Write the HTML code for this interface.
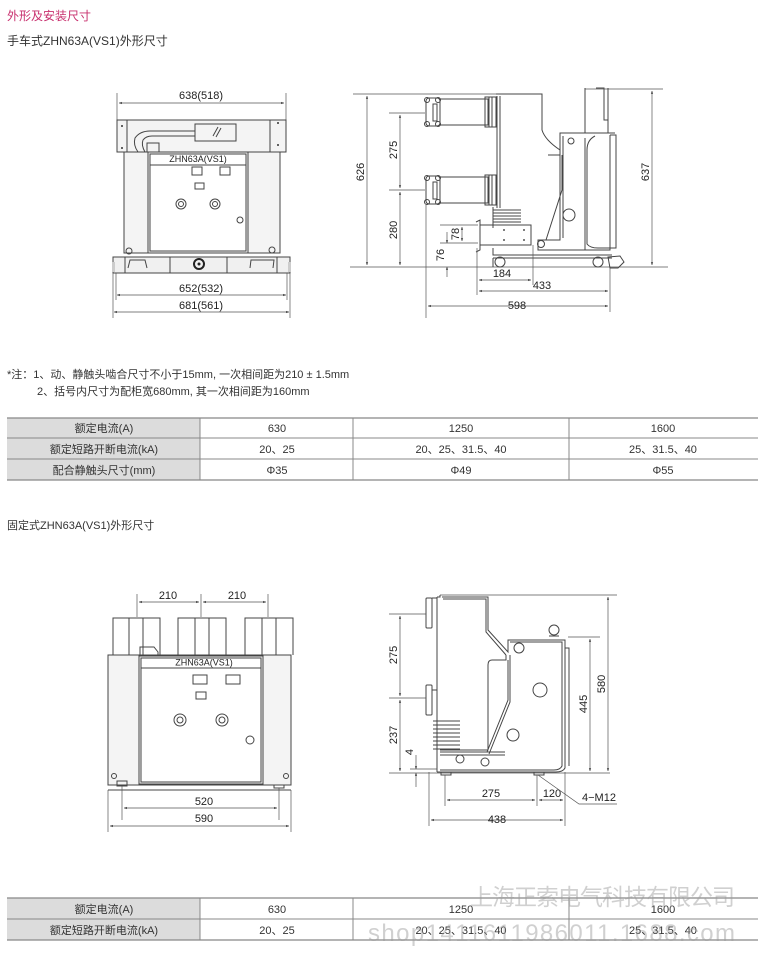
<!DOCTYPE html>
<html><head><meta charset="utf-8"><style>
body{margin:0;background:#fff;}
svg{display:block;font-family:"Liberation Sans","Noto Sans CJK SC",sans-serif;}
.l{stroke:#444;stroke-width:1;fill:none}
.t{stroke:#555;stroke-width:0.7;fill:none}
.d{font-size:11px;fill:#222}
.c{font-size:11px;fill:#333}
.wm{fill:#999;opacity:0.45}
</style></head><body>
<svg width="758" height="962" viewBox="0 0 758 962">
<defs>
<marker id="a" viewBox="0 0 10 10" refX="10" refY="5" markerWidth="6" markerHeight="4" orient="auto-start-reverse"><path d="M0,1L10,5L0,9z" fill="#333"/></marker>
</defs>
<text x="7" y="20" font-size="12" fill="#c8306e">外形及安装尺寸</text>
<text x="7" y="45" font-size="12" fill="#333">手车式ZHN63A(VS1)外形尺寸</text>

<!-- TOP LEFT front view -->
<g>
<line class="t" x1="117" y1="93" x2="117" y2="120"/><line class="t" x1="286" y1="93" x2="286" y2="120"/>
<line class="t" x1="119" y1="103" x2="284" y2="103" marker-start="url(#a)" marker-end="url(#a)"/>
<text class="d" x="201" y="99" text-anchor="middle">638(518)</text>
<rect x="117" y="120" width="169" height="32" fill="#f4f4f4"/>
<rect class="l" x="117" y="120" width="169" height="32"/>
<rect class="l" x="117" y="120" width="10" height="32"/><rect class="l" x="270" y="120" width="16" height="32"/>
<circle cx="122" cy="126" r="1" fill="#333"/><circle cx="122" cy="148" r="1" fill="#333"/>
<circle cx="278" cy="123" r="1" fill="#333"/><circle cx="278" cy="145" r="1" fill="#333"/>
<path class="l" d="M145,152 L138,152 Q133,145 135,138 Q140,131 150,131 L195,131 M145,152 Q141,145 143,140 Q146,136 152,136 L195,136"/>
<rect class="l" x="195" y="124" width="41" height="17"/>
<path class="l" d="M213,136 L218,127 M216,137 L221,128"/>
<rect class="l" x="147" y="143" width="12" height="10"/>
<rect x="124" y="152" width="156" height="101" fill="#f4f4f4"/>
<rect class="l" x="124" y="152" width="156" height="101"/>
<rect class="l" x="148" y="152" width="100" height="101"/>
<rect x="150" y="154" width="96" height="97" fill="#fff"/>
<rect class="l" x="150" y="154" width="96" height="97"/>
<line class="l" x1="150" y1="165" x2="246" y2="165"/>
<text x="198" y="162" font-size="9" text-anchor="middle" fill="#222">ZHN63A(VS1)</text>
<rect class="l" x="192" y="167" width="10" height="8" stroke-width="1.5"/>
<rect class="l" x="220" y="167" width="10" height="8" stroke-width="1.5"/>
<rect class="l" x="195" y="183" width="9" height="6" stroke-width="1.2"/>
<circle class="l" cx="181" cy="204" r="5"/><circle class="l" cx="181" cy="204" r="2.5"/>
<circle class="l" cx="215" cy="204" r="5"/><circle class="l" cx="215" cy="204" r="2.5"/>
<circle class="l" cx="240" cy="220" r="3"/>
<circle class="l" cx="129" cy="251" r="3"/><circle class="l" cx="272" cy="250" r="3"/>
<rect x="113" y="257" width="177" height="16" fill="#f0f0f0"/>
<rect class="l" x="113" y="257" width="177" height="16"/>
<rect x="112" y="262" width="3" height="10" fill="#ccc"/><rect x="288" y="262" width="3" height="10" fill="#ccc"/>
<rect class="l" x="125" y="257" width="45" height="16"/><rect class="l" x="227" y="257" width="50" height="16"/>
<path class="l" d="M128,268 L130,260 L145,260 L147,268 M250,268 L251,260 L274,260 L273,268"/>
<circle cx="199" cy="264" r="5" fill="none" stroke="#222" stroke-width="2"/><circle cx="199" cy="264" r="1.5" fill="#222"/>
<line class="t" x1="113" y1="273" x2="113" y2="318"/><line class="t" x1="290" y1="273" x2="290" y2="318"/>
<line class="t" x1="116" y1="273" x2="116" y2="300"/><line class="t" x1="287" y1="273" x2="287" y2="300"/>
<line class="t" x1="117" y1="295" x2="286" y2="295" marker-start="url(#a)" marker-end="url(#a)"/>
<text class="d" x="201" y="292" text-anchor="middle">652(532)</text>
<line class="t" x1="114" y1="312" x2="289" y2="312" marker-start="url(#a)" marker-end="url(#a)"/>
<text class="d" x="201" y="309" text-anchor="middle">681(561)</text>
</g>

<!-- TOP RIGHT side view -->
<g>
<line class="t" x1="353" y1="94" x2="500" y2="94"/>
<line class="t" x1="350" y1="267" x2="668" y2="267"/>
<line class="t" x1="367" y1="96" x2="367" y2="265" marker-start="url(#a)" marker-end="url(#a)"/>
<text class="d" transform="translate(364,172) rotate(-90)" text-anchor="middle">626</text>
<line class="t" x1="389" y1="113" x2="425" y2="113"/><line class="t" x1="389" y1="190" x2="425" y2="190"/>
<line class="t" x1="400" y1="115" x2="400" y2="188" marker-start="url(#a)" marker-end="url(#a)"/>
<text class="d" transform="translate(397,150) rotate(-90)" text-anchor="middle">275</text>
<line class="t" x1="400" y1="192" x2="400" y2="265" marker-start="url(#a)" marker-end="url(#a)"/>
<text class="d" transform="translate(397,230) rotate(-90)" text-anchor="middle">280</text>
<g>
<rect class="l" x="426" y="98" width="14" height="28" rx="3"/><rect class="l" x="433" y="104" width="4" height="17"/>
<circle class="l" cx="427" cy="100" r="2.5"/><circle class="l" cx="438" cy="100" r="2.5"/><circle class="l" cx="427" cy="124" r="2.5"/><circle class="l" cx="438" cy="124" r="2.5"/>
<rect class="l" x="440" y="99" width="48" height="26"/>
<rect class="l" x="485" y="97" width="11" height="30"/><line class="l" x1="489" y1="97" x2="489" y2="127"/><line class="l" x1="492" y1="97" x2="492" y2="127"/>
</g>
<g transform="translate(0,78)">
<rect class="l" x="426" y="98" width="14" height="28" rx="3"/><rect class="l" x="433" y="104" width="4" height="17"/>
<circle class="l" cx="427" cy="100" r="2.5"/><circle class="l" cx="438" cy="100" r="2.5"/><circle class="l" cx="427" cy="124" r="2.5"/><circle class="l" cx="438" cy="124" r="2.5"/>
<rect class="l" x="440" y="99" width="48" height="26"/>
<rect class="l" x="485" y="97" width="11" height="30"/><line class="l" x1="489" y1="97" x2="489" y2="127"/><line class="l" x1="492" y1="97" x2="492" y2="127"/>
</g>
<line class="t" x1="426" y1="205" x2="426" y2="318"/>
<path class="l" d="M496,94 L542,94 L542,130 Q545,140 560,150 L560,133 L615,133 M497,96 L497,208 M500,96 L500,208"/>
<path class="l" d="M560,133 L560,240 L538,240 L538,250 L610,250 L610,135 M563,136 L563,238 M548,155 L560,155"/>
<path class="l" d="M546,240 L562,190 L562,155"/>
<path class="l" d="M585,88 L585,133 M608,88 L608,133 M596,88 L604,88 L604,120 L608,120 M585,138 L585,250 M595,136 Q587,140 587,150 L587,244 Q590,248 598,248 L610,248"/>
<path class="l" d="M610,135 L616,135 L616,248 L610,248"/>
<circle class="l" cx="571" cy="141" r="3"/><circle class="l" cx="569" cy="215" r="6"/><circle class="l" cx="541" cy="244" r="3.5"/>
<path class="l" d="M493,210 L521,210 M493,213 L521,213 M493,216 L521,216 M493,219 L521,219 M493,222 L521,222 M493,225 L521,225 M493,207 L493,228"/>
<path class="l" d="M476,222 L480,220 L480,225 L531,225 L531,245 L480,245 L480,250 L476,252 M480,225 L480,245"/>
<circle cx="504" cy="230" r="1" fill="#555"/><circle cx="524" cy="230" r="1" fill="#555"/><circle cx="504" cy="240" r="1" fill="#555"/><circle cx="524" cy="240" r="1" fill="#555"/>
<path class="l" d="M493,248 L493,255 L612,255 M493,258 L612,258 M493,258 L493,267"/>
<circle class="l" cx="500" cy="262" r="5"/><circle class="l" cx="598" cy="262" r="5"/>
<path class="l" d="M608,257 L620,256 L624,262 L618,268 L610,268 Z"/>
<line class="t" x1="440" y1="225" x2="478" y2="225"/><line class="t" x1="440" y1="243" x2="478" y2="243"/>
<line class="t" x1="462" y1="227" x2="462" y2="241" marker-start="url(#a)" marker-end="url(#a)"/>
<text class="d" transform="translate(459,234) rotate(-90)" text-anchor="middle">78</text>
<line class="t" x1="447" y1="232" x2="447" y2="243" marker-end="url(#a)"/>
<line class="t" x1="447" y1="277" x2="447" y2="267" marker-end="url(#a)"/>
<text class="d" transform="translate(444,255) rotate(-90)" text-anchor="middle">76</text>
<line class="t" x1="477" y1="248" x2="477" y2="295"/><line class="t" x1="533" y1="245" x2="533" y2="285"/>
<line class="t" x1="610" y1="268" x2="610" y2="312"/>
<line class="t" x1="479" y1="280" x2="531" y2="280" marker-start="url(#a)" marker-end="url(#a)"/>
<text class="d" x="502" y="277" text-anchor="middle">184</text>
<line class="t" x1="479" y1="291" x2="608" y2="291" marker-start="url(#a)" marker-end="url(#a)"/>
<text class="d" x="542" y="289" text-anchor="middle">433</text>
<line class="t" x1="428" y1="306" x2="608" y2="306" marker-start="url(#a)" marker-end="url(#a)"/>
<text class="d" x="517" y="309" text-anchor="middle">598</text>
<line class="t" x1="585" y1="89" x2="663" y2="89"/>
<line class="t" x1="652" y1="91" x2="652" y2="265" marker-start="url(#a)" marker-end="url(#a)"/>
<text class="d" transform="translate(649,172) rotate(-90)" text-anchor="middle">637</text>
</g>

<text x="7" y="378" font-size="11" fill="#333">*注：1、动、静触头啮合尺寸不小于15mm, 一次相间距为210 ± 1.5mm</text>
<text x="37" y="395" font-size="11" fill="#333">2、括号内尺寸为配柜宽680mm, 其一次相间距为160mm</text>

<g>
<rect x="7" y="418" width="193" height="62" fill="#dcdcdc"/>
<line x1="7" y1="418" x2="758" y2="418" stroke="#888" stroke-width="1.3"/>
<line x1="7" y1="438" x2="758" y2="438" stroke="#888"/>
<line x1="7" y1="459" x2="758" y2="459" stroke="#888"/>
<line x1="7" y1="480" x2="758" y2="480" stroke="#888" stroke-width="1.3"/>
<line x1="200" y1="418" x2="200" y2="480" stroke="#888"/><line x1="353" y1="418" x2="353" y2="480" stroke="#888"/><line x1="569" y1="418" x2="569" y2="480" stroke="#888"/>
<g class="c" text-anchor="middle">
<text x="104" y="432">额定电流(A)</text><text x="277" y="432">630</text><text x="461" y="432">1250</text><text x="663" y="432">1600</text>
<text x="104" y="453">额定短路开断电流(kA)</text><text x="277" y="453">20、25</text><text x="461" y="453">20、25、31.5、40</text><text x="663" y="453">25、31.5、40</text>
<text x="104" y="474">配合静触头尺寸(mm)</text><text x="277" y="474">Φ35</text><text x="461" y="474">Φ49</text><text x="663" y="474">Φ55</text>
</g></g>

<text x="7" y="529" font-size="11" fill="#333">固定式ZHN63A(VS1)外形尺寸</text>

<g>
<line class="t" x1="137" y1="594" x2="137" y2="617"/><line class="t" x1="201" y1="594" x2="201" y2="617"/><line class="t" x1="268" y1="594" x2="268" y2="617"/>
<line class="t" x1="139" y1="602" x2="199" y2="602" marker-start="url(#a)" marker-end="url(#a)"/>
<line class="t" x1="203" y1="602" x2="266" y2="602" marker-start="url(#a)" marker-end="url(#a)"/>
<text class="d" x="168" y="599" text-anchor="middle">210</text><text class="d" x="237" y="599" text-anchor="middle">210</text>
<g class="l">
<path d="M113,655 L113,618 L160,618 L160,655 M129,618 L129,655 M143,618 L143,655"/>
<path d="M178,655 L178,618 L226,618 L226,655 M195,618 L195,655 M209,618 L209,655"/>
<path d="M245,655 L245,618 L293,618 L293,655 M262,618 L262,655 M276,618 L276,655"/>
<path d="M140,655 L140,647 L154,647 L158,652 L158,655"/>
</g>
<rect x="108" y="655" width="183" height="130" fill="#f4f4f4"/>
<rect class="l" x="108" y="655" width="183" height="130"/>
<rect class="l" x="139" y="656" width="124" height="128"/>
<rect x="141" y="658" width="120" height="124" fill="#fff"/>
<rect class="l" x="141" y="658" width="120" height="124"/>
<line class="l" x1="141" y1="668" x2="261" y2="668"/>
<text x="204" y="665.5" font-size="9" text-anchor="middle" fill="#222">ZHN63A(VS1)</text>
<rect class="l" x="193" y="675" width="14" height="9" stroke-width="1.5"/>
<rect class="l" x="226" y="675" width="14" height="9" stroke-width="1.5"/>
<rect class="l" x="196" y="692" width="10" height="7" stroke-width="1.3"/>
<circle class="l" cx="180" cy="720" r="6"/><circle class="l" cx="180" cy="720" r="3"/>
<circle class="l" cx="222" cy="720" r="6"/><circle class="l" cx="222" cy="720" r="3"/>
<circle class="l" cx="250" cy="740" r="4"/>
<circle class="l" cx="114" cy="776" r="2.5"/><circle class="l" cx="286" cy="776" r="2.5"/>
<line class="l" x1="108" y1="790" x2="291" y2="790"/>
<rect class="l" x="117" y="781" width="10" height="5"/><rect class="l" x="274" y="785" width="10" height="3"/>
<line class="t" x1="122" y1="786" x2="122" y2="820"/><line class="t" x1="279" y1="788" x2="279" y2="820"/>
<line class="t" x1="108" y1="790" x2="108" y2="832"/><line class="t" x1="291" y1="790" x2="291" y2="832"/>
<line class="t" x1="124" y1="808" x2="277" y2="808" marker-start="url(#a)" marker-end="url(#a)"/>
<text class="d" x="204" y="805" text-anchor="middle">520</text>
<line class="t" x1="110" y1="826" x2="289" y2="826" marker-start="url(#a)" marker-end="url(#a)"/>
<text class="d" x="204" y="822" text-anchor="middle">590</text>
</g>

<g>
<line class="t" x1="440" y1="595" x2="617" y2="595"/>
<path class="l" d="M437,597 L440,597 L440,595 M437,597 L437,772"/>
<path class="l" d="M442,597 L488,597 L488,630 L508,652 L508,640 L565,640 L565,768 Q563,772 556,772 L437,772"/>
<path class="l" d="M443,599 L486,599 L486,632 L506,655 M510,642 L562,642 L562,766 Q560,770 554,770 L440,770"/>
<path class="l" d="M506,655 L506,660 L492,660 Q488,660 488,665 L488,750 L440,750 M508,660 L508,700 L487,752 M510,655 L510,702 L489,754"/>
<path class="l" d="M437,752 L437,770 M440,752 L505,752 M440,755 L505,755"/>
<path class="l" d="M565,648 L569,648 L569,766"/>
<circle class="l" cx="554" cy="630" r="5"/><path class="l" d="M549,636 L559,636"/>
<circle class="l" cx="519" cy="648" r="5"/><circle class="l" cx="540" cy="690" r="7"/><circle class="l" cx="513" cy="735" r="6"/>
<circle class="l" cx="460" cy="759" r="4"/><circle class="l" cx="485" cy="762" r="4"/>
<path class="l" d="M433,733 L460,733 M433,737 L460,737 M433,741 L460,741 M433,745 L460,745 M433,749 L460,749 M433,729 L460,729 M433,725 L460,725 M433,721 L460,721"/>
<rect class="l" x="426" y="598" width="6" height="30" rx="1"/><rect class="l" x="426" y="685" width="6" height="30" rx="1"/>
<line class="l" x1="432" y1="598" x2="437" y2="598"/><line class="l" x1="432" y1="690" x2="437" y2="690"/>
<line class="t" x1="389" y1="614" x2="426" y2="614"/><line class="t" x1="389" y1="698" x2="426" y2="698"/>
<line class="t" x1="400" y1="616" x2="400" y2="696" marker-start="url(#a)" marker-end="url(#a)"/>
<text class="d" transform="translate(397,655) rotate(-90)" text-anchor="middle">275</text>
<line class="t" x1="400" y1="700" x2="400" y2="771" marker-start="url(#a)" marker-end="url(#a)"/>
<text class="d" transform="translate(397,735) rotate(-90)" text-anchor="middle">237</text>
<line class="t" x1="389" y1="773" x2="610" y2="773"/><line class="t" x1="410" y1="769" x2="437" y2="769"/>
<line class="t" x1="416" y1="755" x2="416" y2="769" marker-end="url(#a)"/>
<line class="t" x1="416" y1="787" x2="416" y2="773" marker-end="url(#a)"/>
<text class="d" transform="translate(413,752) rotate(-90)" text-anchor="middle">4</text>
<rect class="l" x="441" y="772" width="10" height="3"/><rect class="l" x="534" y="772" width="10" height="3"/>
<line class="t" x1="445" y1="775" x2="445" y2="806"/><line class="t" x1="537" y1="775" x2="537" y2="806"/><line class="t" x1="565" y1="772" x2="565" y2="826"/>
<line class="t" x1="429" y1="772" x2="429" y2="826"/>
<line class="t" x1="447" y1="800" x2="535" y2="800" marker-start="url(#a)" marker-end="url(#a)"/>
<text class="d" x="491" y="797" text-anchor="middle">275</text>
<line class="t" x1="539" y1="800" x2="563" y2="800" marker-start="url(#a)" marker-end="url(#a)"/>
<text class="d" x="552" y="797" text-anchor="middle">120</text>
<path class="t" d="M538,775 L579,804 L617,804"/>
<text class="d" x="582" y="801">4−M12</text>
<line class="t" x1="431" y1="820" x2="563" y2="820" marker-start="url(#a)" marker-end="url(#a)"/>
<text class="d" x="497" y="823" text-anchor="middle">438</text>
<line class="t" x1="568" y1="637" x2="600" y2="637"/>
<line class="t" x1="590" y1="639" x2="590" y2="771" marker-start="url(#a)" marker-end="url(#a)"/>
<text class="d" transform="translate(587,704) rotate(-90)" text-anchor="middle">445</text>
<line class="t" x1="608" y1="597" x2="608" y2="771" marker-start="url(#a)" marker-end="url(#a)"/>
<text class="d" transform="translate(605,684) rotate(-90)" text-anchor="middle">580</text>
</g>

<g>
<rect x="7" y="898" width="193" height="42" fill="#dcdcdc"/>
<line x1="7" y1="898" x2="758" y2="898" stroke="#888" stroke-width="1.3"/>
<line x1="7" y1="919" x2="758" y2="919" stroke="#888"/>
<line x1="7" y1="940" x2="758" y2="940" stroke="#888" stroke-width="1.3"/>
<line x1="200" y1="898" x2="200" y2="940" stroke="#888"/><line x1="353" y1="898" x2="353" y2="940" stroke="#888"/><line x1="569" y1="898" x2="569" y2="940" stroke="#888"/>
<g class="c" text-anchor="middle">
<text x="104" y="913">额定电流(A)</text><text x="277" y="913">630</text><text x="461" y="913">1250</text><text x="663" y="913">1600</text>
<text x="104" y="934">额定短路开断电流(kA)</text><text x="277" y="934">20、25</text><text x="461" y="934">20、25、31.5、40</text><text x="663" y="934">25、31.5、40</text>
</g></g>
<text class="wm" x="470" y="905" font-size="23" textLength="265">上海正索电气科技有限公司</text>
<text class="wm" x="368" y="941" font-size="24" textLength="367">shop1411611986011.1688.com</text>
</svg>
</body></html>
